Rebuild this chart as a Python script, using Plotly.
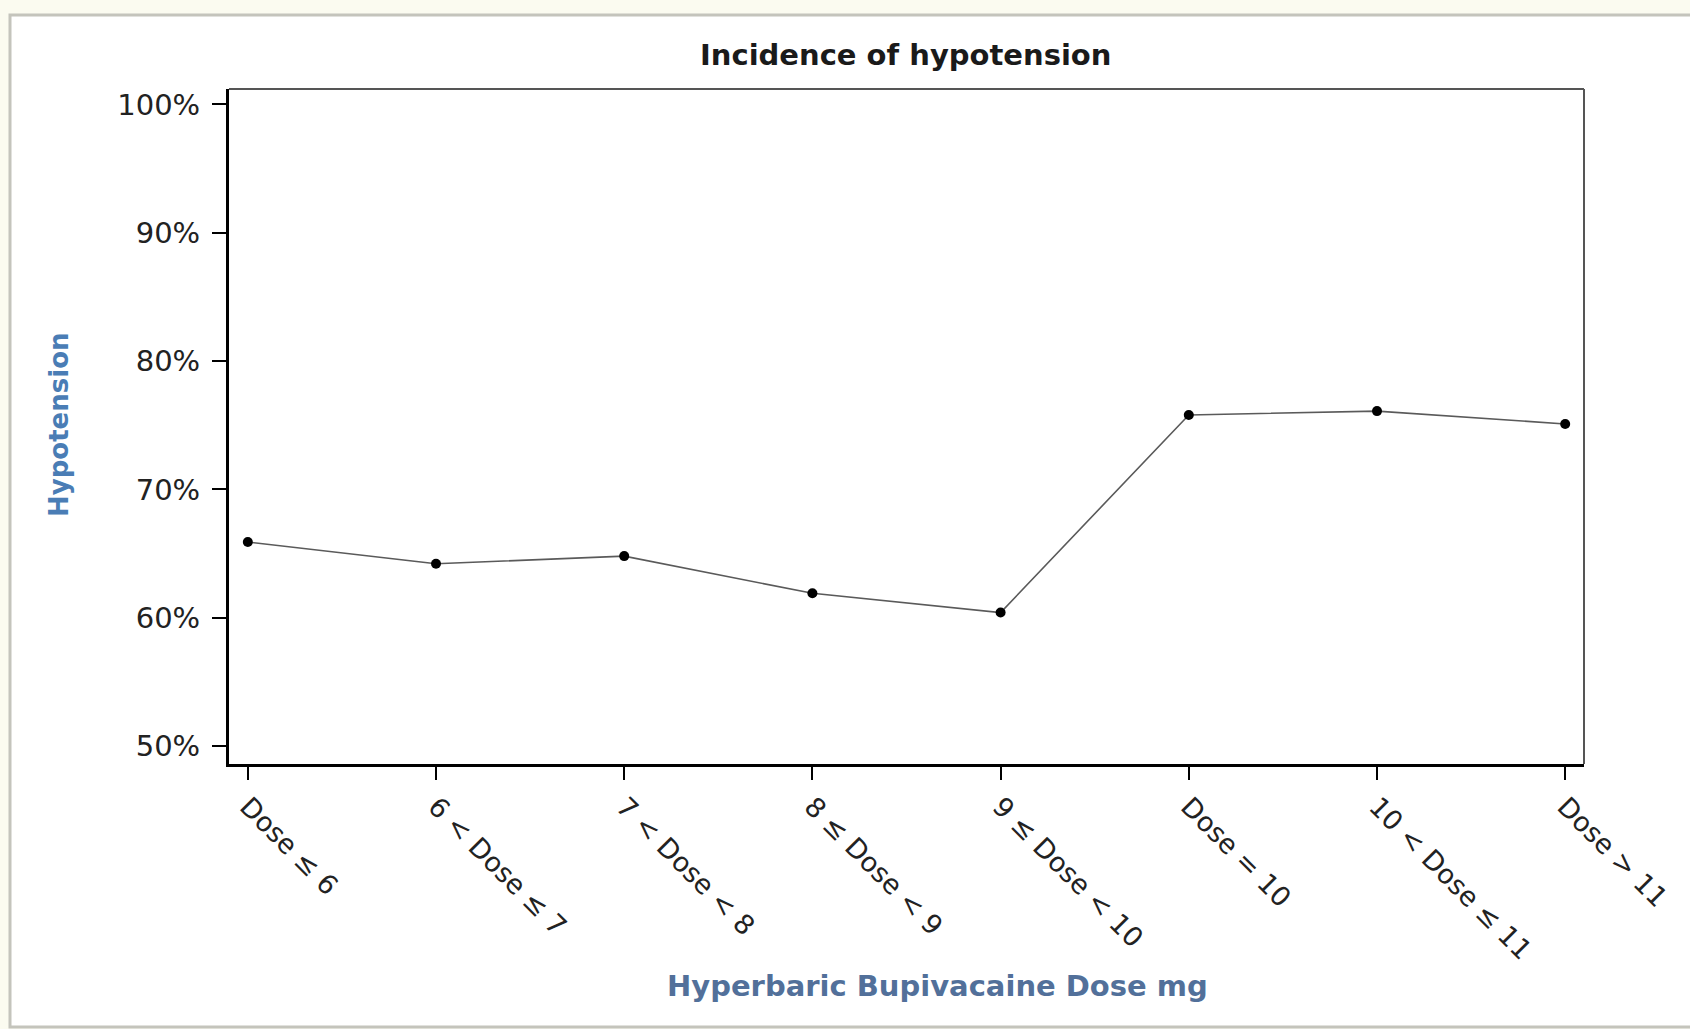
import plotly.graph_objects as go

categories = ["Dose \u2264 6", "6 < Dose \u2264 7", "7 < Dose < 8", "8 \u2264 Dose < 9",
              "9 \u2264 Dose < 10", "Dose = 10", "10 < Dose \u2264 11", "Dose > 11"]
hypotension_pct = [65.9, 64.2, 64.8, 61.9, 60.4, 75.8, 76.1, 75.1]
y_tick_values = [50, 60, 70, 80, 90, 100]
y_tick_labels = ["50%", "60%", "70%", "80%", "90%", "100%"]

W, H = 1690, 1029
L, R, T, B = 229, 1584, 89, 764  # plot area pixel bounds

def px(x):
    return (x - L) / (R - L)

def py(y):
    return (B - y) / (B - T)

fig = go.Figure()
fig.add_trace(go.Scatter(
    x=list(range(len(categories))), y=hypotension_pct,
    mode="lines+markers",
    line=dict(color="#5a5a5a", width=1.6),
    marker=dict(color="black", size=10),
    showlegend=False, hoverinfo="skip",
))

fig.update_layout(
    width=W, height=H,
    margin=dict(l=L, r=W - R, t=T, b=H - B, pad=0, autoexpand=False),
    paper_bgcolor="#fbfbf0",
    plot_bgcolor="white",
    font=dict(family="DejaVu Sans", size=28, color="#222222"),
    xaxis=dict(
        range=[-0.1, 7.1],
        tickvals=list(range(len(categories))), ticktext=categories,
        tickangle=45, automargin=False,
        showline=True, linecolor="black", linewidth=3,
        ticks="outside", ticklen=13, tickwidth=2, tickcolor="black",
        showgrid=False, zeroline=False,
        tickfont=dict(family="DejaVu Sans", size=27, color="#222222"),
    ),
    yaxis=dict(
        range=[48.6, 101.2],
        tickvals=y_tick_values, ticktext=y_tick_labels, automargin=False,
        showline=True, linecolor="black", linewidth=3,
        ticks="outside", ticklen=14, tickwidth=2, tickcolor="black",
        showgrid=False, zeroline=False,
        tickfont=dict(family="DejaVu Sans", size=29, color="#222222"),
        ticklabelstandoff=6,
    ),
    shapes=[
        dict(type="rect", xref="paper", yref="paper", layer="below",
             x0=px(10), x1=px(1710), y0=py(1027), y1=py(15),
             line=dict(color="#c4c4bc", width=3), fillcolor="white"),
        dict(type="line", xref="paper", yref="paper",
             x0=0, x1=1, y0=1, y1=1, line=dict(color="#555555", width=2)),
        dict(type="line", xref="paper", yref="paper",
             x0=1, x1=1, y0=0, y1=1, line=dict(color="#555555", width=2)),
    ],
    annotations=[
        dict(text="<b>Incidence of hypotension</b>", xref="paper", yref="paper",
             x=px(905), y=py(55), xanchor="center", yanchor="middle", showarrow=False,
             font=dict(family="DejaVu Sans", size=29, color="#1a1a1a")),
        dict(text="<b>Hypotension</b>", xref="paper", yref="paper",
             x=px(59), y=py(425), xanchor="center", yanchor="middle", showarrow=False,
             textangle=-90,
             font=dict(family="DejaVu Sans", size=26, color="#4a7db5")),
        dict(text="<b>Hyperbaric Bupivacaine Dose mg</b>", xref="paper", yref="paper",
             x=px(937), y=py(986), xanchor="center", yanchor="middle", showarrow=False,
             font=dict(family="DejaVu Sans", size=29, color="#52709a")),
    ],
)

fig.write_html("out.html", config={"displayModeBar": False},
               post_script="document.body.style.margin='0';")
